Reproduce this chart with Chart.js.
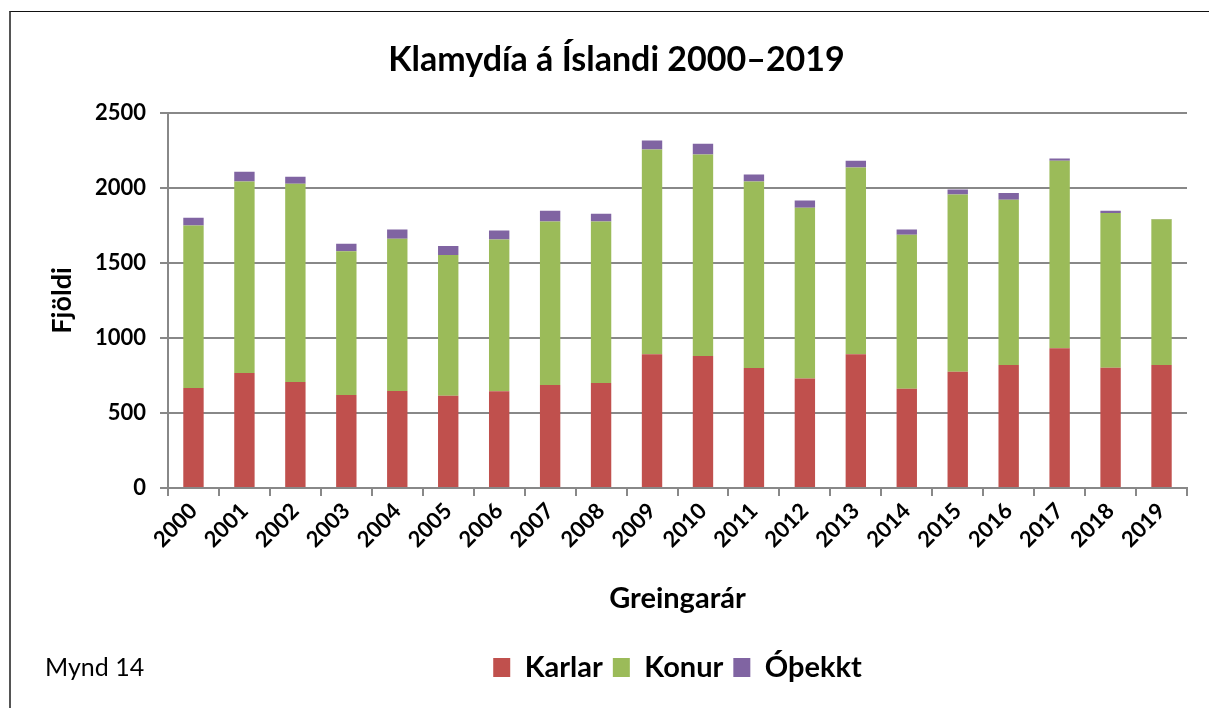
<!DOCTYPE html>
<html>
<head>
<meta charset="utf-8">
<script src="https://cdn.jsdelivr.net/npm/chart.js@4.4.1/dist/chart.umd.min.js"></script>
<style>
  html, body { margin: 0; padding: 0; background: #fff; }
  #wrap { position: relative; width: 1209px; height: 708px; overflow: hidden; }
  #frame {
    position: absolute; left: 9px; top: 11px; width: 1300px; height: 800px;
    border-left: 2px solid #555; border-top: 1px solid #111;
  }
  canvas { position: absolute; left: 0; top: 0; }
</style>
</head>
<body>
<div id="wrap">
  <div id="frame"></div>
  <canvas id="chart" width="1209" height="708"></canvas>
</div>
<script>
const years = ["2000", "2001", "2002", "2003", "2004", "2005", "2006", "2007", "2008", "2009",
  "2010", "2011", "2012", "2013", "2014", "2015", "2016", "2017", "2018", "2019"];
const karlar = [666, 766, 706, 619, 646, 615, 644, 686, 699, 892,
  879, 799, 729, 892, 662, 775, 819, 932, 802, 819];
const konur = [1083, 1277, 1321, 959, 1015, 937, 1012, 1090, 1077, 1364,
  1343, 1244, 1138, 1244, 1026, 1181, 1102, 1248, 1030, 971];
const othekkt = [52, 64, 47, 50, 62, 60, 60, 71, 51, 60,
  72, 46, 49, 44, 35, 33, 44, 16, 15, 3];
const yTicks = [0, 500, 1000, 1500, 2000, 2500];

const font = "Lato";
const gridGray = "#888888";

// "Mynd 14" caption in the lower left
const caption = {
  id: "caption",
  afterDraw(chart) {
    const ctx = chart.ctx;
    ctx.save();
    ctx.font = "25px " + font;
    ctx.fillStyle = "#000";
    ctx.textBaseline = "middle";
    ctx.fillText("Mynd 14", 45, 668);
    ctx.restore();
  }
};

new Chart(document.getElementById("chart"), {
  type: "bar",
  data: {
    labels: years,
    datasets: [
      { label: "Karlar", data: karlar, backgroundColor: "#C0504D" },
      { label: "Konur", data: konur, backgroundColor: "#9BBB59" },
      { label: "Óþekkt", data: othekkt, backgroundColor: "#8064A2" }
    ]
  },
  options: {
    responsive: false,
    animation: false,
    layout: { padding: { left: 46, right: 22, top: 20, bottom: 16 } },
    datasets: { bar: { barPercentage: 0.8, categoryPercentage: 0.5 } },
    plugins: {
      title: {
        display: true,
        text: "Klamydía á Íslandi 2000–2019",
        color: "#000",
        font: { family: font, size: 34, weight: "bold" },
        padding: { top: 20, bottom: 32 }
      },
      legend: {
        position: "bottom",
        fullSize: false,
        labels: {
          color: "#000",
          font: { family: font, size: 29, weight: "bold" },
          boxWidth: 17,
          boxHeight: 19,
          padding: 10
        }
      },
      tooltip: { enabled: false }
    },
    scales: {
      x: {
        stacked: true,
        border: { color: gridGray, width: 2 },
        grid: { drawOnChartArea: false, color: gridGray, lineWidth: 2, tickLength: 8 },
        ticks: {
          color: "#000",
          font: { family: font, size: 22, weight: "bold" },
          minRotation: 45, maxRotation: 45, padding: 2
        },
        title: {
          display: true, text: "Greingarár", color: "#000",
          font: { family: font, size: 29, weight: "bold" },
          padding: { top: 0, bottom: 27 }
        },
        afterFit(s) { s.height = 155; }
      },
      y: {
        stacked: true,
        min: 0, max: 2500,
        afterBuildTicks(s) { s.ticks = yTicks.map(v => ({ value: v })); },
        border: { color: gridGray, width: 2 },
        grid: { color: gridGray, lineWidth: 2, tickLength: 8 },
        ticks: {
          color: "#000",
          font: { family: font, size: 22, weight: "bold" },
          padding: 14,
          callback: v => String(v)
        },
        title: {
          display: true, text: "Fjöldi", color: "#000",
          font: { family: font, size: 27, weight: "bold" },
          padding: { top: 0, bottom: 0 }
        },
        afterFit(s) { s.width = 122; }
      }
    }
  },
  plugins: [caption]
});
</script>
</body>
</html>
